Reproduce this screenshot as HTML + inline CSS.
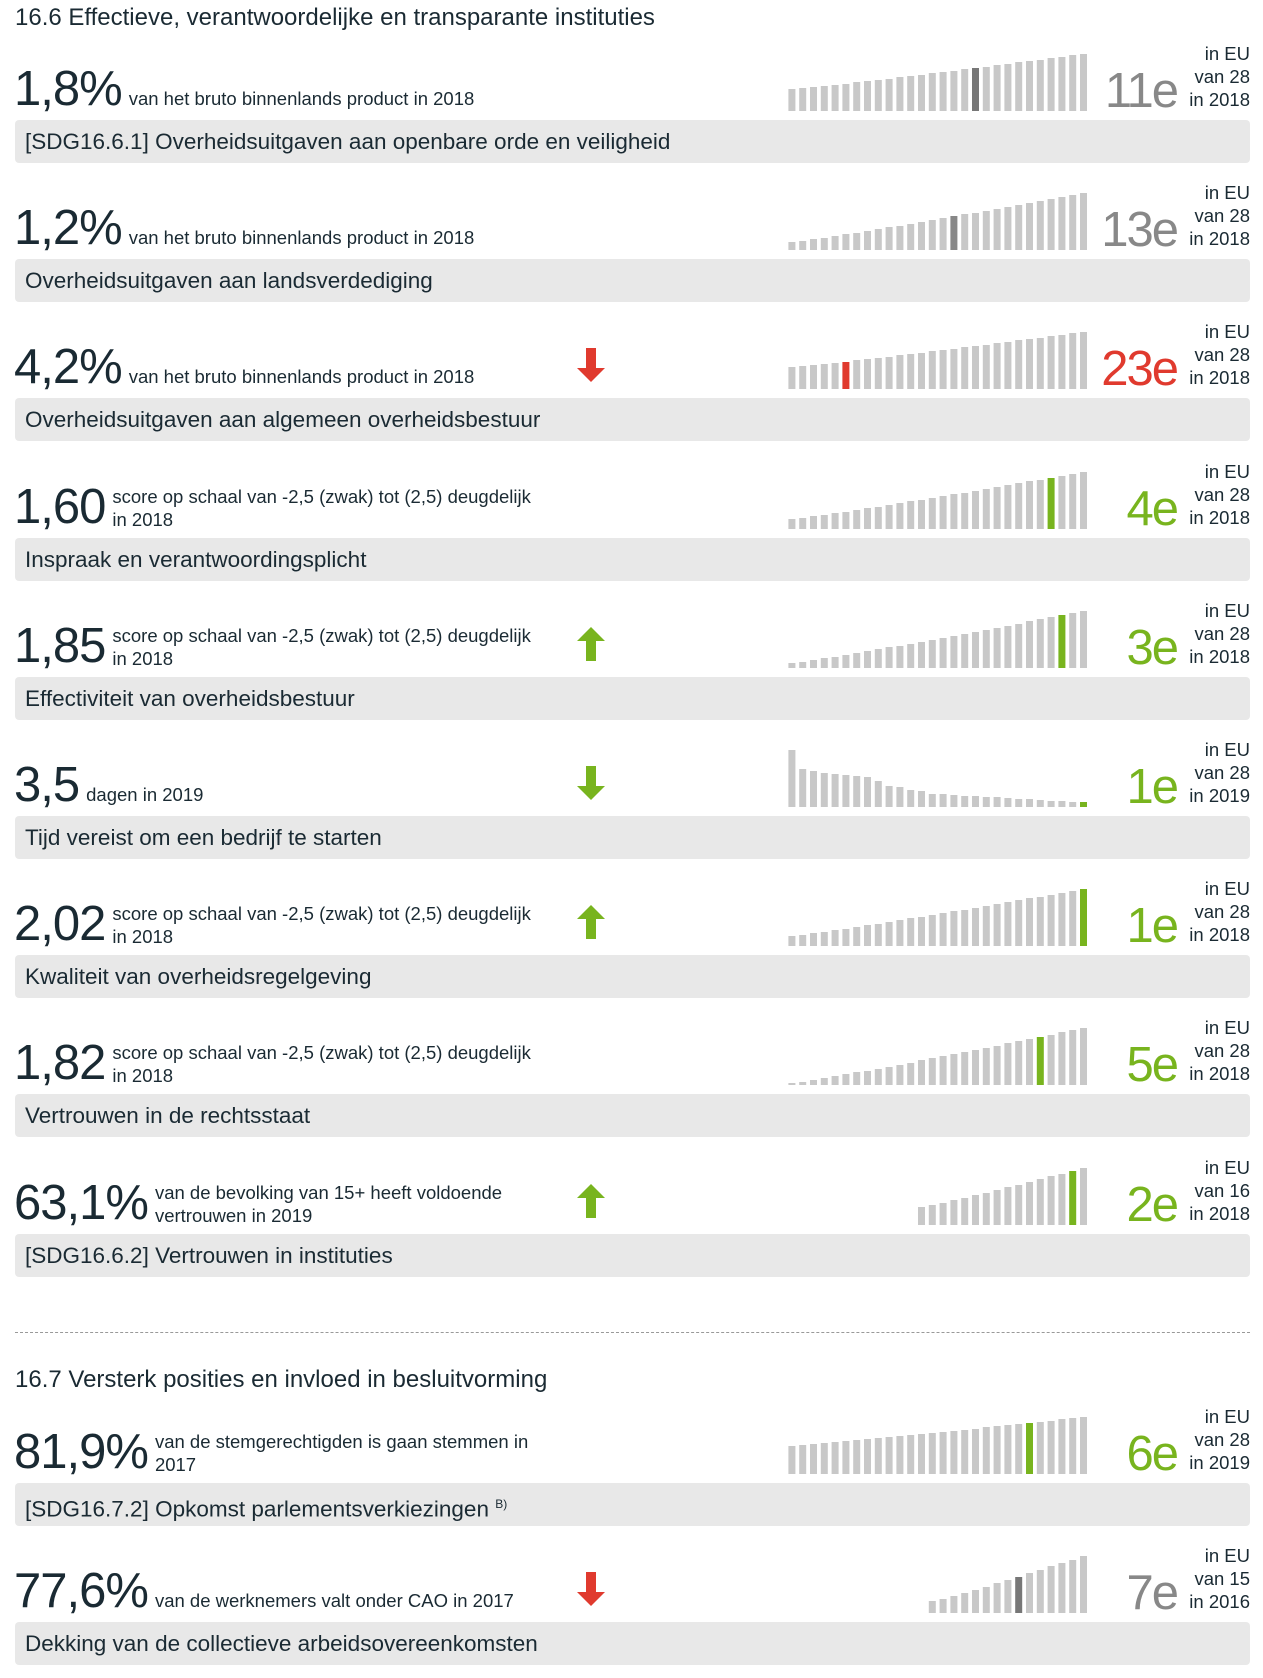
<!DOCTYPE html>
<html><head><meta charset="utf-8">
<style>
body{margin:0;width:1263px;height:1678px;background:#fff;position:relative;overflow:hidden;font-family:"Liberation Sans Narrow","Liberation Sans",sans-serif;color:#1a2a33}
.a{position:absolute;white-space:nowrap}
.box{position:absolute;left:15px;width:1235px;height:43px;background:#e8e8e8;border-radius:4px}
.lab{position:absolute;left:25px;font-size:22.5px;line-height:43px}
.row{position:absolute;left:14px;display:flex;align-items:flex-end;height:60px}
.big{font-size:49px;line-height:50px;letter-spacing:-1px;margin-right:7px}
.sm{font-size:18.5px;line-height:23px;padding-bottom:1px}
.rk{position:absolute;right:86px;font-size:49px;line-height:50px;letter-spacing:-2px}
.eu{position:absolute;right:13px;font-size:18.5px;line-height:23px;text-align:right}
h2{position:absolute;margin:0;font-weight:normal;font-size:24px;left:15px}
</style></head><body>
<h2 style="top:4px">16.6 Effectieve, verantwoordelijke en transparante instituties</h2>
<div style="position:absolute;left:15px;top:1332px;width:1235px;border-top:1px dashed #999"></div>
<h2 style="top:1366px">16.7 Versterk posities en invloed in besluitvorming</h2>
<div id="c"></div>
<script>
var G='#c8c8c8';
var rows=[
{t:120,n:'1,8%',s:['van het bruto binnenlands product in 2018'],l:'[SDG16.6.1] Overheidsuitgaven aan openbare orde en veiligheid',r:'11e',rc:'#888',h:17,hc:'#777',N:28,mn:22,eu:'van 28',y:'in 2018'},
{t:259,n:'1,2%',s:['van het bruto binnenlands product in 2018'],l:'Overheidsuitgaven aan landsverdediging',r:'13e',rc:'#888',h:15,hc:'#888',N:28,mn:8,eu:'van 28',y:'in 2018'},
{t:398,n:'4,2%',s:['van het bruto binnenlands product in 2018'],l:'Overheidsuitgaven aan algemeen overheidsbestuur',r:'23e',rc:'#e03a2e',h:5,hc:'#e03a2e',N:28,mn:22,eu:'van 28',y:'in 2018',ar:'dr'},
{t:538,n:'1,60',s:['score op schaal van -2,5 (zwak) tot (2,5) deugdelijk','in 2018'],l:'Inspraak en verantwoordingsplicht',r:'4e',rc:'#78b41e',h:24,hc:'#78b41e',N:28,mn:10,eu:'van 28',y:'in 2018'},
{t:677,n:'1,85',s:['score op schaal van -2,5 (zwak) tot (2,5) deugdelijk','in 2018'],l:'Effectiviteit van overheidsbestuur',r:'3e',rc:'#78b41e',h:25,hc:'#78b41e',N:28,mn:5,eu:'van 28',y:'in 2018',ar:'ug'},
{t:816,n:'3,5',s:['dagen in 2019'],l:'Tijd vereist om een bedrijf te starten',r:'1e',rc:'#78b41e',h:27,hc:'#78b41e',N:28,dec:1,eu:'van 28',y:'in 2019',ar:'dg'},
{t:955,n:'2,02',s:['score op schaal van -2,5 (zwak) tot (2,5) deugdelijk','in 2018'],l:'Kwaliteit van overheidsregelgeving',r:'1e',rc:'#78b41e',h:27,hc:'#78b41e',N:28,mn:10,eu:'van 28',y:'in 2018',ar:'ug'},
{t:1094,n:'1,82',s:['score op schaal van -2,5 (zwak) tot (2,5) deugdelijk','in 2018'],l:'Vertrouwen in de rechtsstaat',r:'5e',rc:'#78b41e',h:23,hc:'#78b41e',N:28,mn:2,eu:'van 28',y:'in 2018'},
{t:1234,n:'63,1%',s:['van de bevolking van 15+ heeft voldoende','vertrouwen in 2019'],l:'[SDG16.6.2] Vertrouwen in instituties',r:'2e',rc:'#78b41e',h:14,hc:'#78b41e',N:16,mn:18,eu:'van 16',y:'in 2018',ar:'ug'},
{t:1483,n:'81,9%',s:['van de stemgerechtigden is gaan stemmen in','2017'],l:'[SDG16.7.2] Opkomst parlementsverkiezingen <sup style="font-size:12px">B)</sup>',r:'6e',rc:'#78b41e',h:22,hc:'#78b41e',N:28,mn:28,eu:'van 28',y:'in 2019'},
{t:1622,n:'77,6%',s:['van de werknemers valt onder CAO in 2017'],l:'Dekking van de collectieve arbeidsovereenkomsten',r:'7e',rc:'#888',h:8,hc:'#777',N:15,mn:12,eu:'van 15',y:'in 2016',ar:'dr'}
];
var dec=[57,38,36,34,33,32,31,30,26,21,20,17,16,13,13,12,11,11,10,10,9,8,8,7,6,6,5,5];
var o='';
rows.forEach(function(R){
 var t=R.t;
 o+='<div class="box" style="top:'+t+'px"></div><div class="lab a" style="top:'+t+'px">'+R.l+'</div>';
 o+='<div class="row" style="top:'+(t-66)+'px"><span class="big">'+R.n+'</span><span class="sm" style="padding-bottom:'+(R.s.length==1?4:1)+'px">'+R.s.join('<br>')+'</span></div>';
 o+='<div class="rk a" style="top:'+(t-54)+'px;color:'+R.rc+'">'+R.r+'</div>';
 o+='<div class="eu a" style="top:'+(t-78)+'px">in EU<br>'+R.eu+'<br>'+R.y+'</div>';
 var s='<svg class="a" style="left:780px;top:'+(t-70)+'px" width="310" height="62">';
 var pitch=10.8,bw=7,N=R.N,x0=1087-N*pitch-780+(pitch-bw);
 for(var i=0;i<N;i++){
  var h=R.dec?dec[i]:Math.round(R.mn+(57-R.mn)*Math.pow(i/(N-1),1.1));
  var c=i==R.h?R.hc:G;
  s+='<rect x="'+(x0+i*pitch).toFixed(1)+'" y="'+(61-h)+'" width="'+bw+'" height="'+h+'" fill="'+c+'"/>';
 }
 s+='</svg>';o+=s;
 if(R.ar){
  var col=R.ar[1]=='g'?'#78b41e':'#e03a2e';var up=R.ar[0]=='u';
  var p=up?'M14 0 L28 14 L19 14 L19 34 L9 34 L9 14 L0 14Z':'M9 0 L19 0 L19 20 L28 20 L14 34 L0 20 L9 20Z';
  o+='<svg class="a" style="left:577px;top:'+(t-50)+'px" width="28" height="34"><path d="'+p+'" fill="'+col+'"/></svg>';
 }
});
document.getElementById('c').innerHTML=o;
</script>
</body></html>
